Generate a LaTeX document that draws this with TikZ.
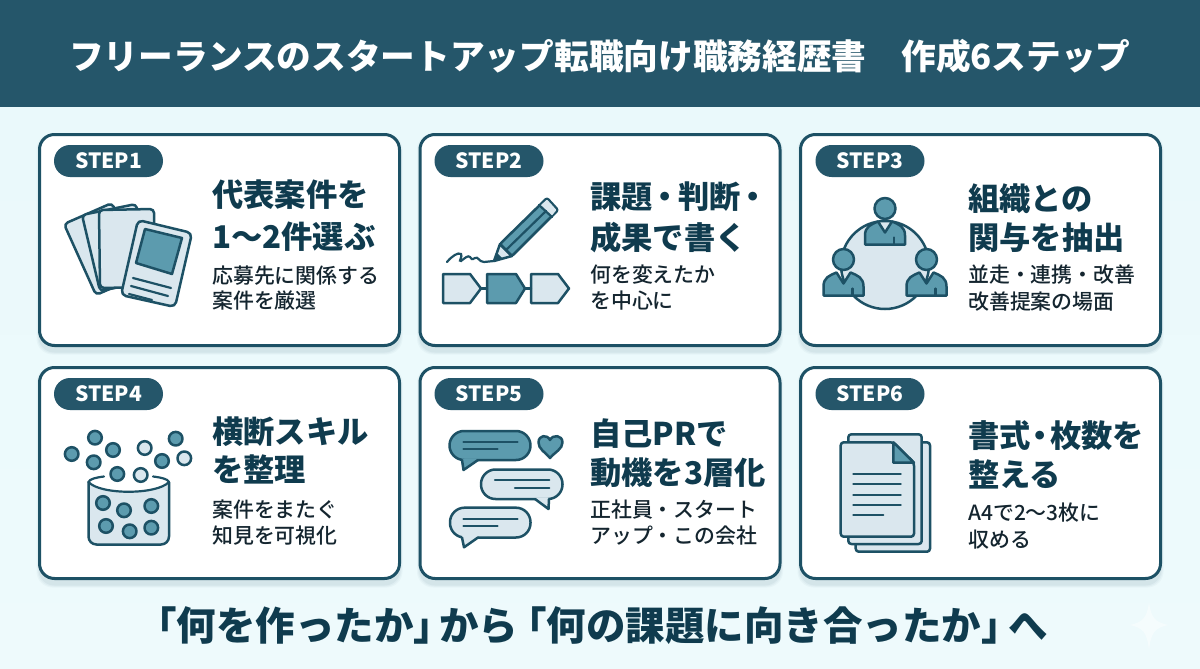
\documentclass[tikz,border=0pt]{standalone}
\usepackage{fontspec}
\setmainfont{Noto Sans CJK JP}
\newfontfamily\medfont{Noto Sans CJK JP Medium}
\definecolor{headbg}{HTML}{25566A}
\definecolor{ink}{HTML}{1D5165}
\definecolor{midc}{HTML}{5C9BAE}
\definecolor{palec}{HTML}{DAE7EE}
\definecolor{titlec}{HTML}{0F3B4E}
\definecolor{subc}{HTML}{14252F}
\definecolor{bgtop}{HTML}{E9F9FB}
\definecolor{bgbot}{HTML}{EEFAFC}
\tikzset{
  cardbox/.style={draw=ink,line width=3pt,fill=white,rounded corners=15pt,minimum width=360pt,minimum height=211pt,inner sep=0pt,outer sep=0pt},
  pillbox/.style={fill=headbg,rounded corners=16pt,minimum width=109pt,minimum height=32pt,inner sep=0pt,text=white,font=\fontsize{21}{24}\selectfont\bfseries},
  headtext/.style={anchor=base west,inner sep=0pt,text=titlec,font=\fontsize{31.3}{36}\selectfont\bfseries},
  subtext/.style={anchor=base west,inner sep=0pt,text=subc,font=\fontsize{20.9}{25}\selectfont\medfont},
  icon/.style={draw=ink,line width=2.5pt,line join=round,line cap=round},
  pale/.style={icon,fill=palec},
  mid/.style={icon,fill=midc},
  iconline/.style={draw=ink,line width=2.2pt,line cap=round},
}
\newcommand{\cardat}[3]{%
  \foreach \sh/\op in {4/0.03,3/0.04,2/0.05}{
    \fill[ink,opacity=\op,rounded corners=16pt] (#2-181-\sh+2,#3-106.5+4-\sh) rectangle (#2+181+\sh-2,#3+106.5+4+\sh);
  }
  \node[cardbox] (#1) at (#2,#3) {};
}
\newcommand{\headline}[4]{\node[headtext] (#1) at (#2,#3+11) {#4};}
\newcommand{\subline}[4]{\node[subtext] (#1) at (#2,#3+7.5) {#4};}
\newcommand{\person}[2]{%
  \draw[mid] (#1-20,#2+36) -- (#1-20,#2+27) .. controls (#1-20,#2+18) and (#1-14,#2+16) .. (#1-7,#2+13) -- (#1,#2+24) -- (#1+7,#2+13) .. controls (#1+14,#2+16) and (#1+20,#2+18) .. (#1+20,#2+27) -- (#1+20,#2+36) -- cycle;
  \draw[iconline] (#1+9,#2+29) -- (#1+9,#2+36);
  \draw[mid] (#1,#2) circle (10.5);
}
\newcommand{\dotat}[3]{\draw[#3] (#1,#2) circle (6.8);}
% bubble: fill colour, x1,y1,x2,y2, tail base a, tip x,y, tail base b
\newcommand{\bubble}[9]{%
  \draw[icon,fill=#1,rounded corners=14.5pt] (#2,#3) rectangle (#4,#5);
  \fill[#1] (#6,#5-1.5) -- (#7,#8) -- (#9,#5-1.5) -- cycle;
  \draw[icon] (#6,#5) -- (#7,#8) -- (#9,#5);
}
\begin{document}
\begin{tikzpicture}[x=1pt,y=-1pt]
\useasboundingbox (0,0) rectangle (1200,669);
\shade[top color=bgtop,bottom color=bgbot] (0,0) rectangle (1200,669);
\fill[headbg] (0,0) rectangle (1200,107);
\node[anchor=base west,inner sep=0pt,text=white,font=\fontsize{34.7}{40}\selectfont\bfseries] (title) at (69,70) {フリーランスのスタートアップ転職向け職務経歴書　作成6ステップ};

\cardat{card1}{219.5}{240}
\cardat{card2}{600}{240}
\cardat{card3}{980.5}{240}
\cardat{card4}{219.5}{473}
\cardat{card5}{600}{473}
\cardat{card6}{980.5}{473}

\node[pillbox] (pill1) at (108.5,161) {STEP1};
\node[pillbox] (pill2) at (489,161) {STEP2};
\node[pillbox] (pill3) at (870,161) {STEP3};
\node[pillbox] (pill4) at (108.5,394) {STEP4};
\node[pillbox] (pill5) at (489,394) {STEP5};
\node[pillbox] (pill6) at (870,394) {STEP6};

\headline{h1a}{212}{195}{代表案件を}
\headline{h1b}{212}{237}{1〜2件選ぶ}
\subline{s1a}{212}{276}{応募先に関係する}
\subline{s1b}{212}{301}{案件を厳選}
\headline{h2a}{590}{197}{課題\kern-3pt・\kern-3pt判断\kern-3pt・}
\headline{h2b}{590}{238}{成果で書く}
\subline{s2a}{590}{275}{何を変えたか}
\subline{s2b}{590}{301}{を中心に}
\headline{h3a}{968}{199}{組織との}
\headline{h3b}{968}{238}{関与を抽出}
\subline{s3a}{968}{275}{並走・連携・改善}
\subline{s3b}{968}{302}{改善提案の場面}
\headline{h4a}{212}{432}{横断スキル}
\headline{h4b}{212}{470}{を整理}
\subline{s4a}{212}{510}{案件をまたぐ}
\subline{s4b}{212}{536}{知見を可視化}
\headline{h5a}{590}{434}{自己PRで}
\headline{h5b}{590}{473}{動機を3層化}
\subline{s5a}{590}{510}{正社員・スタート}
\subline{s5b}{590}{536}{アップ・この会社}
\headline{h6a}{968}{436}{書式\kern-6pt・\kern-6pt枚数を}
\headline{h6b}{968}{475}{整える}
\subline{s6a}{968}{513}{A4で2〜3枚に}
\subline{s6b}{968}{540}{収める}

% icon 1: cards
\draw[pale,rounded corners=4pt] (64,224) -- (112,203) -- (144,274) -- (96,295) -- cycle;
\draw[pale,rounded corners=4pt] (82,215) -- (136,204) -- (154,280) -- (100,291) -- cycle;
\draw[pale,rounded corners=4pt] (99,210) -- (154,209) -- (155,287) -- (100,288) -- cycle;
\draw[pale,rounded corners=5pt] (138,220) -- (192,233) -- (175,307) -- (121,295) -- cycle;
\draw[mid] (145,229) -- (182,238) -- (172,274) -- (136,263) -- cycle;
\draw[iconline] (133,278) -- (171,288);
\draw[iconline] (131,286) -- (168,296);
\draw[iconline] (129,294) -- (152,300);

% icon 2: pencil
\draw[pale] (494,261) -- (500,244) -- (512,256) -- cycle;
\fill[ink] (494,261) -- (497,253) -- (502,258) -- cycle;
\draw[mid,rounded corners=2pt] (500,244) -- (547,198) -- (558,210) -- (512,256) -- cycle;
\fill[palec,rounded corners=1pt] (547,199.5) -- (556.5,210) -- (551.5,216) -- (540.5,205.5) -- cycle;
\draw[iconline] (539,205) -- (552,217);
\draw[iconline] (506,250) -- (546,211);
\draw[iconline] (447,262) .. controls (452,256) and (458,252) .. (461,254) .. controls (463,256) and (458,262) .. (461,261) .. controls (465,258) and (468,255) .. (470,257) .. controls (471,259) and (472,260) .. (475,258) .. controls (478,256) and (479,262) .. (484,262) -- (494,261);
\draw[pale] (443,274) -- (470,274) -- (481,288.5) -- (470,303) -- (443,303) -- cycle;
\draw[mid] (487,274) -- (516,274) -- (525,288.5) -- (516,303) -- (487,303) -- cycle;
\draw[pale] (531,274) -- (558,274) -- (569,288.5) -- (558,303) -- (531,303) -- cycle;
\draw[iconline] (481,288.5) -- (487,288.5);
\draw[iconline] (525,288.5) -- (531,288.5);

% icon 3: people around a circle
\draw[pale] (885,265) circle (44);
\person{885}{208.5}
\person{843.5}{259.5}
\person{926.5}{259.5}

% icon 4: jar with dots
\draw[pale,rounded corners=8pt] (88.5,482) -- (88.5,544.5) -- (169,544.5) -- (169,482);
\fill[white] (88.5,482) .. controls (100,495) and (157,495) .. (169,482) -- (169,470) -- (88.5,470) -- cycle;
\draw[iconline] (88.5,482) .. controls (100,495) and (157,495) .. (169,482);
\draw[iconline] (88.5,482) .. controls (89.5,479) and (96,477.5) .. (104,476.5);
\draw[iconline] (169,482) .. controls (168,479) and (161,477.5) .. (153,476.5);
\foreach \x/\y in {95/437.7,71.7/454,113/450,93.7/462.3,117.3/474,175.7/438.7,162/461}{\dotat{\x}{\y}{mid}}
\foreach \x/\y in {144.7/448,184.3/458.3,140.7/475}{\dotat{\x}{\y}{pale}}
\foreach \x/\y in {103/503,124/510.3,151.3/506,106/526,129.7/531.3,151.3/527.7}{\dotat{\x}{\y}{mid}}

% icon 5: speech bubbles
\bubble{midc}{449.5}{431}{530.5}{460}{462}{463.5}{470}{478}
\draw[iconline] (463.5,441.7) -- (517.5,441.7);
\draw[iconline] (463.5,449.3) -- (497.5,449.3);
\draw[mid] (550,458) .. controls (545,452) and (538.5,449) .. (538.5,442.5) .. controls (538.5,435) and (547,434) .. (550,440) .. controls (553,434) and (562.5,435) .. (562.5,442.5) .. controls (562.5,449) and (555,452) .. (550,458) -- cycle;
\bubble{palec}{481}{469.5}{562.5}{499}{535}{548.5}{509}{549}
\draw[iconline] (495,480) -- (549.3,480);
\draw[iconline] (515,488.3) -- (549.3,488.3);
\bubble{palec}{450}{507.7}{530.5}{537.5}{462}{464}{547.3}{478}
\draw[iconline] (463.5,518.7) -- (517.5,518.7);
\draw[iconline] (463.5,526.3) -- (497.5,526.3);

% icon 6: documents
\draw[pale,rounded corners=3pt] (855.7,442.3) rectangle (930,551.7);
\draw[pale,rounded corners=3pt] (848.3,434.3) rectangle (921.7,544);
\draw[pale,rounded corners=3pt] (840.7,442.3) -- (893.3,442.3) -- (914,462.7) -- (914,536.7) -- (840.7,536.7) -- cycle;
\draw[mid] (893.3,442.3) -- (914,462.7) -- (893.3,462.7) -- cycle;
\foreach \y in {474,484.3,494.7,505}{\draw[iconline] (853.3,\y) -- (900.7,\y);}
\draw[iconline] (853.3,515.3) -- (883.3,515.3);

\node[anchor=base west,inner sep=0pt,text=titlec,font=\fontsize{39.5}{44}\selectfont\bfseries] (foot) at (137,640) {「何を作ったか」\kern-14ptから\kern-11pt「何の課題に向き合ったか」\kern-12.5ptへ};
\fill[white,opacity=0.45] (1149,602) .. controls (1151,618) and (1155,622) .. (1168,625) .. controls (1155,628) and (1151,632) .. (1149,650) .. controls (1147,632) and (1143,628) .. (1130,625) .. controls (1143,622) and (1147,618) .. (1149,602) -- cycle;
\end{tikzpicture}
\end{document}
